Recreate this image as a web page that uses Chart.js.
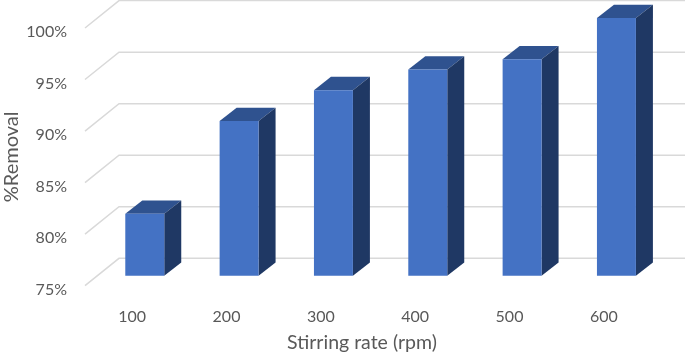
<!DOCTYPE html>
<html>
<head>
<meta charset="utf-8">
<style>html,body{margin:0;padding:0;background:#fff}#w{width:685px;height:354px}</style>
<script src="https://cdn.jsdelivr.net/npm/chart.js@4"></script>
</head>
<body>
<div id="w"><canvas id="c" width="685" height="354"></canvas></div>
<script>
const categories = ['100','200','300','400','500','600'];
const removal = [81,90,93,95,96,100];
const baseline = 75;
const xTitle = 'Stirring rate (rpm)';
const yTitle = '%Removal';

const FONT = 'Lato, Carlito, sans-serif';
const wall = {dx:34, dy:-27.4};   // floor depth from front edge to back wall
const barShift = {dx:12.6, dy:-10}; // bars stand part-way into the floor
const bar3d = {dx:17, dy:-13.3};  // depth of each bar

const box3d = {
  id:'box3d',
  beforeDatasetsDraw(chart){
    const {ctx, chartArea:a, scales:{y}} = chart;
    ctx.save();
    ctx.strokeStyle = '#d9d9d9';
    ctx.lineWidth = 1.5;
    y.ticks.forEach(t=>{
      const p = y.getPixelForValue(t.value);
      ctx.beginPath();
      ctx.moveTo(a.left, p);
      ctx.lineTo(a.left+wall.dx, p+wall.dy);
      ctx.lineTo(a.right+wall.dx, p+wall.dy);
      ctx.stroke();
    });
    ctx.restore();
    ctx.save();
    ctx.translate(barShift.dx, barShift.dy);
    chart.getDatasetMeta(0).data.forEach(b=>{
      const l=b.x-b.width/2, r=b.x+b.width/2, t=b.y, bt=b.base;
      ctx.fillStyle='#2f528f';
      ctx.beginPath();
      ctx.moveTo(l,t);ctx.lineTo(l+bar3d.dx,t+bar3d.dy);ctx.lineTo(r+bar3d.dx,t+bar3d.dy);ctx.lineTo(r,t);
      ctx.closePath();ctx.fill();
      ctx.fillStyle='#1f3864';
      ctx.beginPath();
      ctx.moveTo(r,t);ctx.lineTo(r+bar3d.dx,t+bar3d.dy);ctx.lineTo(r+bar3d.dx,bt+bar3d.dy);ctx.lineTo(r,bt);
      ctx.closePath();ctx.fill();
    });
  },
  afterDatasetsDraw(chart){ chart.ctx.restore(); }
};

new Chart(document.getElementById('c'),{
  type:'bar',
  data:{labels:categories,datasets:[{data:removal,base:baseline,backgroundColor:'#4472c4',borderWidth:0,clip:false,
    categoryPercentage:1,barPercentage:0.413}]},
  plugins:[box3d],
  options:{
    responsive:false,animation:false,
    layout:{padding:{top:28,right:34,left:0,bottom:0}},
    plugins:{legend:{display:false},tooltip:{enabled:false},title:{display:false}},
    scales:{
      x:{
        grid:{display:false,drawTicks:false},border:{display:false},
        ticks:{color:'#595959',font:{family:FONT,size:16},padding:22,maxRotation:0},
        title:{display:true,text:xTitle,color:'#595959',font:{family:FONT,size:19.5},padding:{top:5,bottom:0}},
        afterFit(s){s.height=68.3;},
        afterUpdate(s){
          const draw = s.drawTitle;
          s.drawTitle = function(){
            s.ctx.save(); s.ctx.translate(-6,0);
            draw.apply(s, arguments);
            s.ctx.restore();
          };
        }
      },
      y:{
        min:75,max:100,
        grid:{display:false,drawTicks:false},border:{display:false},
        ticks:{stepSize:5,color:'#595959',font:{family:FONT,size:16},padding:18,labelOffset:4,
          callback:v=>v+'%'},
        title:{display:true,text:yTitle,color:'#595959',font:{family:FONT,size:20},padding:{top:0,bottom:0}},
        afterFit(s){s.width=85;}
      }
    }
  }
});
</script>
</body>
</html>
